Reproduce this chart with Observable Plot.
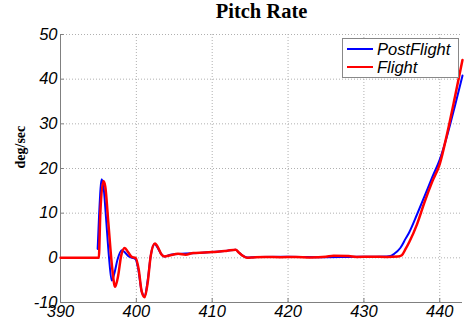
<!DOCTYPE html>
<html><head><meta charset="utf-8">
<script src="https://cdn.jsdelivr.net/npm/d3@7"></script>
<script src="https://cdn.jsdelivr.net/npm/@observablehq/plot@0.6"></script>
<style>
body{margin:0;background:#fff;width:467px;height:327px;overflow:hidden;position:relative;}
#title{height:20px;line-height:26px;text-align:center;font:bold 20.5px "Liberation Serif","Times New Roman",serif;padding-left:56px;color:#000;}
#legend{position:absolute;left:342px;top:38px;width:117px;height:40px;border:1px solid #888;background:#fff;box-sizing:border-box;font:italic 16.5px "Liberation Sans",Arial,sans-serif;}
#legend div{position:absolute;left:0;height:18px;line-height:18px;}
#legend span.l{position:absolute;left:4px;top:8px;width:26px;height:0;border-top:2px solid;}
#legend span.t{position:absolute;left:34px;top:0;white-space:nowrap;}
</style></head>
<body>
<div id="title">Pitch Rate</div>
<div id="chart"></div>
<div id="legend"></div>
<script>
const seriesNames = ["PostFlight", "Flight"];
const seriesColors = ["#0000ff", "#ff0000"];
const xTicks = [390, 400, 410, 420, 430, 440];
const yTicks = [-10, 0, 10, 20, 30, 40, 50];

const postT = [394.9,395.1,395.43,395.7,396.0,396.4,396.75,397.1,397.5,398.06,398.5,399.0,399.5,399.9,400.3,400.7,401.1,401.5,401.9,402.4,402.8,403.3,403.7,404.5,406,408,410,412,413.1,413.5,414,414.6,416,420,425,428,431,433,433.5,434,434.8,435.5,436,437,438,439,440,441,442,443];
const postV = [2.0,10,17.6,15.5,9,0,-5.1,-3.5,-0.5,1.7,1.2,0.3,0,-0.3,-3,-7.5,-8.6,-5,0.5,3.1,2.3,0.8,0.3,0.7,0.9,1.1,1.3,1.6,1.8,1.2,0.5,0.05,0.2,0.25,0.15,0.2,0.25,0.3,0.4,0.9,2.2,4.3,5.8,9.7,13.8,18,22,27.5,34,40.8];

const flightT = [390,395.05,395.25,395.65,395.9,396.3,396.8,397.2,397.6,398.0,398.46,398.9,399.4,399.9,400.3,400.7,401.1,401.5,401.9,402.45,402.9,403.3,403.7,404.5,405.5,406.5,407.5,409,410,411,412,413.1,413.5,414,414.6,415.5,417,419,421,423,425,426,428,429,431,433,434.5,435,435.5,436,437,438,439,440,441,442,443];
const flightV = [0,0,10,17.2,16,8,-2,-6.5,-4,0.5,2.2,1.3,0.2,0,-2.5,-7.5,-8.8,-5.5,0.5,3.2,2.2,0.8,0.3,0.6,0.9,0.7,1.1,1.2,1.3,1.4,1.6,1.8,1.2,0.5,0,0.1,0.2,0.15,0.2,0.1,0.25,0.45,0.4,0.2,0.25,0.2,0.3,0.6,2,3.6,7.5,12.5,17,21,28,36,44.3];

const post = postT.map((t, i) => ({t, v: postV[i]}));
const flight = flightT.map((t, i) => ({t, v: flightV[i]}));

const font = '"Liberation Sans", Arial, sans-serif';
const chart = Plot.plot({
  width: 467,
  height: 307,
  marginLeft: 60,
  marginRight: 5,
  marginTop: 14,
  marginBottom: 25,
  style: {fontFamily: font, background: "#fff", overflow: "visible"},
  x: {type: "linear", domain: [390, 443]},
  y: {type: "linear", domain: [-10, 50]},
  marks: [
    Plot.gridX(xTicks, {stroke: "#b0b0b0", strokeOpacity: 1, strokeDasharray: "1,2"}),
    Plot.gridY(yTicks, {stroke: "#b0b0b0", strokeOpacity: 1, strokeDasharray: "1,2"}),
    Plot.ruleX([390], {stroke: "#808080"}),
    Plot.ruleY([-10], {stroke: "#808080"}),
    Plot.ruleX(xTicks, {x: d => d, y1: -10, y2: -9.1, stroke: "#808080"}),
    Plot.ruleY(yTicks, {y: d => d, x1: 390, x2: 390.5, stroke: "#808080"}),
    Plot.axisX(xTicks, {tickSize: 0, tickPadding: 3, fontSize: 16.5, fontStyle: "italic", fill: "#000", label: null, tickFormat: d => d}),
    Plot.axisY(yTicks, {tickSize: 0, tickPadding: 3, fontSize: 16.5, fontStyle: "italic", fill: "#000", label: null, tickFormat: d => d}),
    Plot.text(["deg/sec"], {frameAnchor: "left", dx: -40, rotate: -90, fontFamily: '"Liberation Serif", "Times New Roman", serif', fontWeight: "bold", fontSize: 14, fill: "#000"}),
    Plot.line(post, {x: "t", y: "v", stroke: seriesColors[0], strokeWidth: 2, curve: "monotone-x"}),
    Plot.line(flight, {x: "t", y: "v", stroke: seriesColors[1], strokeWidth: 2.5, curve: "monotone-x"})
  ]
});
document.getElementById("chart").appendChild(chart);

const leg = document.getElementById("legend");
seriesNames.forEach((name, i) => {
  const row = document.createElement("div");
  row.style.top = (i === 0 ? 1 : 19) + "px";
  row.style.width = "100%";
  row.innerHTML = `<span class="l" style="border-color:${seriesColors[i]}"></span><span class="t">${name}</span>`;
  leg.appendChild(row);
});
</script>
</body></html>
